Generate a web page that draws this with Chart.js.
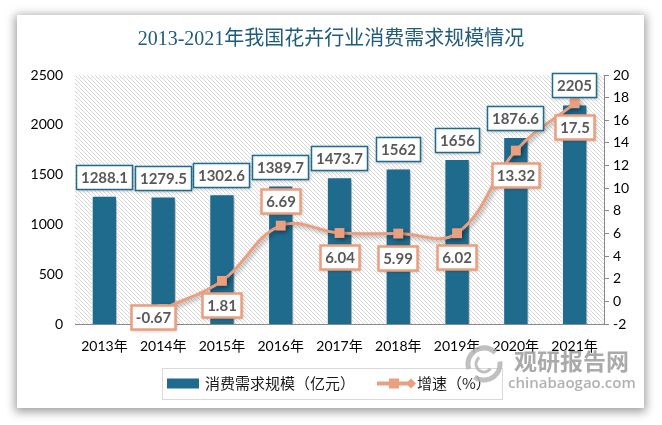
<!DOCTYPE html>
<html><head><meta charset="utf-8">
<script src="https://cdn.jsdelivr.net/npm/chart.js@4/dist/chart.umd.min.js"></script>
<style>
html,body{margin:0;padding:0;background:#fff;}
#wrap{position:relative;width:662px;height:425px;overflow:hidden;}
#card{position:absolute;left:17px;top:15px;width:627px;height:393px;background:#fff;box-shadow:0 2px 9px 2px rgba(0,0,0,0.38);}
#c{position:absolute;left:0;top:0;}
</style></head><body>
<div id="wrap"><div id="card"></div><canvas id="c" width="662" height="425"></canvas></div>
<script>
const titleText = '2013-2021年我国花卉行业消费需求规模情况';
const categories = ['2013年','2014年','2015年','2016年','2017年','2018年','2019年','2020年','2021年'];
const demandScale = [1288.1, 1279.5, 1302.6, 1389.7, 1473.7, 1562, 1656, 1876.6, 2205];
const growthRate = [null, -0.67, 1.81, 6.69, 6.04, 5.99, 6.02, 13.32, 17.5];
const leftTicks = [0, 500, 1000, 1500, 2000, 2500];
const rightTicks = [-2, 0, 2, 4, 6, 8, 10, 12, 14, 16, 18, 20];
const seriesNames = ['消费需求规模（亿元）', '增速（%）'];
const growthLabelSide = ['below','below','below','above','below','below','below','below','below'];
const watermarkCn = '观研报告网';
const watermarkEn = 'chinabaogao.com';

const BLUE = '#1f6b8e';
const SALMON = '#ea9f7e';
const AXIS = '#898989';
const TICKFONT = {family: 'Lato, "Liberation Sans", "Noto Sans CJK SC", sans-serif', size: 14};
const CJK = '"Noto Sans CJK SC", sans-serif';

function makeHatch() {
  const p = document.createElement('canvas');
  p.width = 4; p.height = 4;
  const g = p.getContext('2d');
  g.strokeStyle = '#d9d9d9'; g.lineWidth = 1;
  g.beginPath();
  g.moveTo(0, 0); g.lineTo(4, 4);
  g.moveTo(-1, 3); g.lineTo(1, 5);
  g.moveTo(3, -1); g.lineTo(5, 1);
  g.stroke();
  return p;
}

function labelBox(ctx, cx, top, text, border, lw) {
  ctx.save();
  ctx.font = 'bold 15px Lato, "Liberation Sans", sans-serif';
  const w = Math.round(ctx.measureText(text).width + 10), h = 25;
  const x = Math.round(cx - w / 2), y = Math.round(top);
  ctx.shadowColor = 'rgba(0,0,0,0.25)'; ctx.shadowBlur = 3; ctx.shadowOffsetX = 1; ctx.shadowOffsetY = 1;
  ctx.fillStyle = '#fff';
  ctx.fillRect(x, y, w, h);
  ctx.shadowColor = 'rgba(0,0,0,0)';
  ctx.strokeStyle = border; ctx.lineWidth = lw;
  ctx.strokeRect(x + 0.5, y + 0.5, w - 1, h - 1);
  ctx.fillStyle = '#595959';
  ctx.textAlign = 'center'; ctx.textBaseline = 'middle';
  ctx.fillText(text, x + w / 2, y + h / 2 + 1);
  ctx.restore();
}

const decor = {
  id: 'decor',
  beforeDraw(chart) {
    const {ctx, chartArea: a} = chart;
    ctx.save();
    ctx.fillStyle = ctx.createPattern(makeHatch(), 'repeat');
    ctx.fillRect(a.left, a.top, a.right - a.left, a.bottom - a.top);
    ctx.restore();
  },
  beforeDatasetDraw(chart) {
    const ctx = chart.ctx;
    ctx.save();
    ctx.shadowColor = 'rgba(0,0,0,0.35)'; ctx.shadowBlur = 4; ctx.shadowOffsetX = 2; ctx.shadowOffsetY = 2;
  },
  afterDatasetDraw(chart) { chart.ctx.restore(); },
  afterDatasetsDraw(chart) {
    const ctx = chart.ctx, a = chart.chartArea;
    const bars = chart.getDatasetMeta(0).data;
    bars.forEach((el, i) => {
      labelBox(ctx, el.x, el.y - 6 - 25, String(demandScale[i]), BLUE, 1.5);
    });
    const pts = chart.getDatasetMeta(1).data;
    pts.forEach((el, i) => {
      const v = growthRate[i];
      if (v === null || v === undefined) return;
      let top = growthLabelSide[i] === 'above' ? el.y - 12 - 25 : el.y + 12;
      let cx = el.x;
      if (top + 25 > a.bottom + 6) { top = a.bottom + 6 - 25; cx = el.x - 10; }
      labelBox(ctx, cx, top, String(v), SALMON, 2.5);
    });
  },
  afterDraw(chart) {
    const ctx = chart.ctx;
    ctx.save();
    // legend
    const lx = 162, ly = 368, lw = 340, lh = 31;
    ctx.strokeStyle = '#d9d9d9'; ctx.lineWidth = 1;
    ctx.strokeRect(lx + 0.5, ly + 0.5, lw, lh);
    const cy = ly + lh / 2;
    ctx.fillStyle = BLUE;
    ctx.fillRect(lx + 5, cy - 5, 32, 10);
    ctx.font = '15px ' + CJK;
    ctx.fillStyle = '#1a1a1a';
    ctx.textBaseline = 'middle'; ctx.textAlign = 'left';
    ctx.fillText(seriesNames[0], lx + 43, cy);
    const ix = lx + 215;
    ctx.strokeStyle = SALMON; ctx.lineWidth = 4;
    ctx.beginPath(); ctx.moveTo(ix, cy); ctx.lineTo(ix + 34, cy); ctx.stroke();
    ctx.fillStyle = SALMON;
    ctx.fillRect(ix + 12, cy - 5, 10, 10);
    ctx.beginPath(); ctx.moveTo(ix + 34, cy - 5); ctx.lineTo(ix + 39, cy); ctx.lineTo(ix + 34, cy + 5); ctx.lineTo(ix + 29, cy); ctx.closePath(); ctx.fill();
    ctx.fillStyle = '#1a1a1a';
    ctx.fillText(seriesNames[1], ix + 40, cy);
    // watermark
    ctx.globalAlpha = 0.85;
    ctx.strokeStyle = '#b5b5b5'; ctx.lineWidth = 5;
    ctx.beginPath(); ctx.arc(484, 364, 16, Math.PI * 0.9, Math.PI * 1.75); ctx.stroke();
    ctx.beginPath(); ctx.arc(484, 364, 16, Math.PI * 1.95, Math.PI * 2.7); ctx.stroke();
    ctx.lineWidth = 3;
    ctx.beginPath(); ctx.arc(484, 364, 8, Math.PI * 0.2, Math.PI * 1.3); ctx.stroke();
    ctx.fillStyle = '#9b9b9b';
    ctx.font = 'bold 23px ' + CJK;
    ctx.textAlign = 'left'; ctx.textBaseline = 'middle';
    ctx.fillText(watermarkCn, 514, 361);
    ctx.fillStyle = '#a3a3a3';
    ctx.font = '600 15px "Open Sans", sans-serif';
    ctx.fillText(watermarkEn, 508, 384);
    ctx.restore();
  }
};

new Chart(document.getElementById('c'), {
  data: {
    labels: categories,
    datasets: [
      {
        type: 'bar', label: seriesNames[0], data: demandScale, yAxisID: 'y', order: 2,
        backgroundColor: BLUE, borderColor: '#ffffff', borderWidth: 1,
        categoryPercentage: 1, barPercentage: 0.43
      },
      {
        type: 'line', label: seriesNames[1], data: growthRate, yAxisID: 'y2', order: 1,
        borderColor: SALMON, backgroundColor: SALMON, borderWidth: 3, tension: 0.4,
        pointStyle: 'rect', pointRadius: 7, pointBackgroundColor: SALMON, pointBorderColor: SALMON, pointBorderWidth: 0
      }
    ]
  },
  options: {
    responsive: false, animation: false,
    layout: {padding: 0},
    plugins: {
      legend: {display: false},
      tooltip: {enabled: false},
      title: {
        display: true, text: titleText, color: '#1f5b7a',
        font: {family: '"Liberation Serif", "Noto Sans CJK SC", serif', size: 20, weight: 'normal', lineHeight: 1.2},
        padding: {top: 28, bottom: 23}
      }
    },
    scales: {
      x: {
        grid: {display: false, drawTicks: false},
        border: {display: true, color: AXIS, width: 1},
        ticks: {color: '#000', font: TICKFONT, padding: 14, maxRotation: 0, autoSkip: false},
        afterFit(s) { s.height = 101; }
      },
      y: {
        position: 'left', min: leftTicks[0], max: leftTicks[leftTicks.length - 1],
        grid: {display: false, drawTicks: false}, border: {display: false},
        ticks: {stepSize: leftTicks[1] - leftTicks[0], color: '#000', font: TICKFONT, padding: 12, callback: v => String(v)},
        afterFit(s) { s.width = 75; }
      },
      y2: {
        position: 'right', min: rightTicks[0], max: rightTicks[rightTicks.length - 1],
        grid: {display: true, drawOnChartArea: false, drawTicks: true, tickLength: 5, color: AXIS},
        border: {display: true, color: AXIS, width: 1},
        ticks: {stepSize: rightTicks[1] - rightTicks[0], color: '#000', font: TICKFONT, padding: 4, callback: v => String(v)},
        afterFit(s) { s.width = 58; }
      }
    }
  },
  plugins: [decor]
});
</script>
</body></html>
